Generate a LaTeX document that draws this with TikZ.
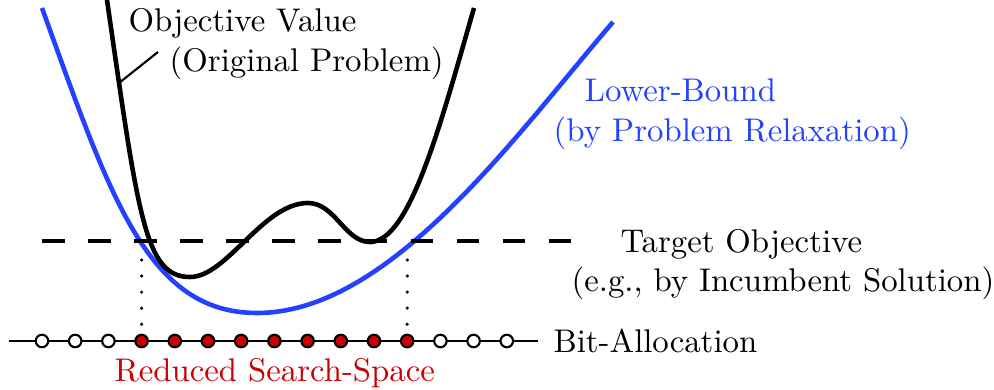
\documentclass[tikz,border=0pt]{standalone}
\usetikzlibrary{calc}
\definecolor{lbblue}{RGB}{35,65,255}
\definecolor{rsred}{RGB}{204,0,0}
\begin{document}
\begin{tikzpicture}[x=0.305pt,y=-0.305pt,
  curve/.style={line width=1.4pt,line join=round,line cap=butt},
  target/.style={line width=1.3pt,dash pattern=on 6.9pt off 7.15pt},
  dotline/.style={line width=1.05pt,line cap=round,dash pattern=on 0pt off 4.9pt},
  bitline/.style={line width=0.9pt},
  bitoff/.style={circle,draw=black,fill=white,line width=0.65pt,minimum size=12.5*0.305pt,inner sep=0pt},
  biton/.style={bitoff,fill=rsred},
  lbl/.style={anchor=base west,inner sep=0pt,font=\normalsize}]
\useasboundingbox (0,0) rectangle (994,390);
% lower bound (blue)
\coordinate (lbs) at (42,8);
\coordinate (lbm) at (257,313);
\coordinate (lbe) at (613,22);
\draw[curve,lbblue] (lbs) .. controls (110,196) and (147,313) .. (lbm)
  .. controls (390,313) and (515,136) .. (lbe);
% objective (black)
\coordinate (obs) at (107,0);
\coordinate (obm1) at (190,277);
\coordinate (obx) at (308,203);
\coordinate (obm2) at (370,242);
\coordinate (obe) at (474,8);
\draw[curve,black] (obs) .. controls (138.5,218) and (145,277) .. (obm1)
  .. controls (227,277) and (263,203) .. (obx)
  .. controls (335,203) and (345,242) .. (obm2)
  .. controls (410,242) and (440.8,123) .. (obe);
% target objective dashed line
\coordinate (tl) at (42,241);
\coordinate (tr) at (576,241);
\draw[target] (tl) -- (tr);
% bit-allocation line and bits
\coordinate (bl) at (9,341);
\coordinate (br) at (538,341);
\draw[bitline] (bl) -- (br);
\foreach \i in {0,...,14}{
  \pgfmathsetmacro{\xx}{42+33.2*\i}
  \ifnum\i<3 \node[bitoff] (b\i) at (\xx,341) {};
  \else\ifnum\i>11 \node[bitoff] (b\i) at (\xx,341) {};
  \else \node[biton] (b\i) at (\xx,341) {};
  \fi\fi
}
% dotted projections
\coordinate (dl) at (141.6,260);
\coordinate (dr) at (407.4,260);
\draw[dotline] (dl) -- ($(b3)+(0,-16)$);
\draw[dotline] (dr) -- ($(b11)+(0,-16)$);
% leader line
\coordinate (lead1) at (119,83);
\coordinate (lead2) at (158,52);
\draw[line width=0.65pt] (lead1) -- (lead2);
% labels
\node[lbl] (ov) at (128,32) {Objective Value};
\node[lbl] (op) at (169,72) {(Original Problem)};
\node[lbl,text=lbblue] (lb1) at (584,102) {Lower-Bound};
\node[lbl,text=lbblue] (lb2) at (553,142) {(by Problem Relaxation)};
\node[lbl] (to1) at (620,253) {Target Objective};
\node[lbl] (to2) at (571,292) {(e.g., by Incumbent Solution)};
\node[lbl] (ba) at (553,353) {Bit-Allocation};
\node[lbl,text=rsred] (rs) at (114,382) {Reduced Search-Space};
\end{tikzpicture}
\end{document}
